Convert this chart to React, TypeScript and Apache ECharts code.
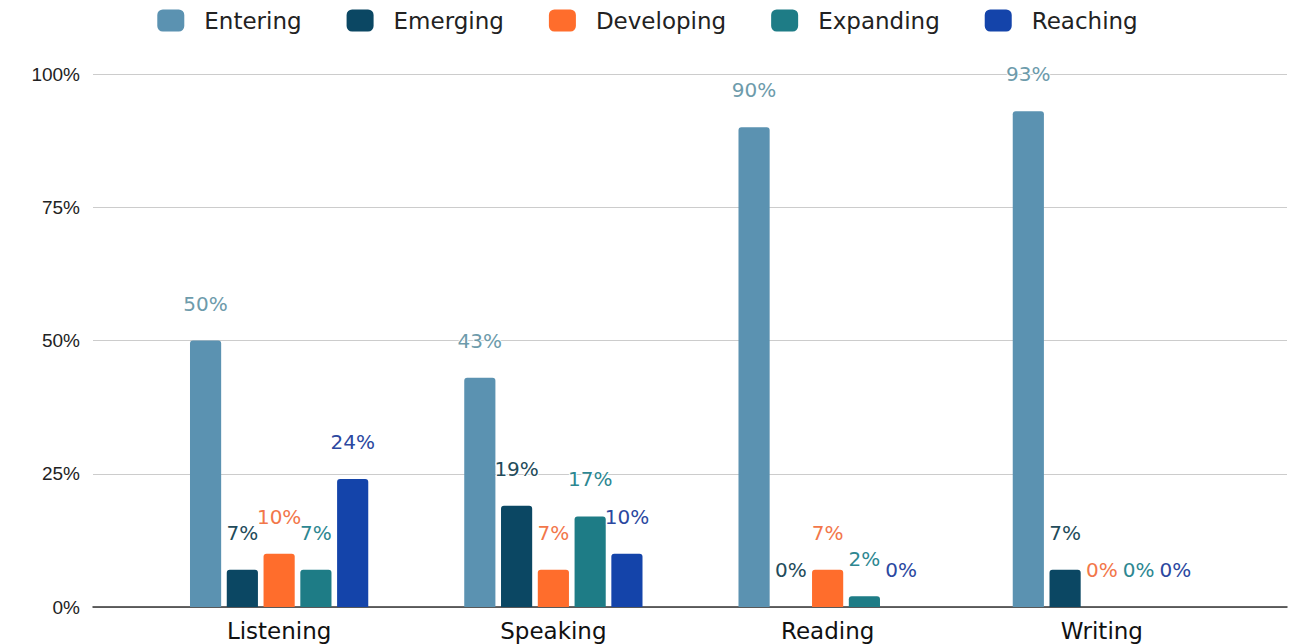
import React, { useEffect, useRef } from "react";
import * as echarts from "echarts";

const categories = ["Listening", "Speaking", "Reading", "Writing"];
const seriesNames = ["Entering", "Emerging", "Developing", "Expanding", "Reaching"];
const entering = [50, 43, 90, 93];
const emerging = [7, 19, 0, 7];
const developing = [10, 7, 7, 0];
const expanding = [7, 17, 2, 0];
const reaching = [24, 10, 0, 0];
const yTicks = [0, 25, 50, 75, 100];

const barColors = ["#5b92b1", "#0b4763", "#ff6d2c", "#1e7c86", "#1444aa"];
const labelColors = ["#6d9bab", "#234b5a", "#f2774a", "#2d8791", "#2b48a0"];

export default function App() {
  const ref = useRef<HTMLDivElement>(null);
  useEffect(() => {
    document.body.style.margin = "0";
    const chart = echarts.init(ref.current!, null, { renderer: "svg" });
    const values = [entering, emerging, developing, expanding, reaching];
    chart.setOption({
      animation: false,
      textStyle: { fontFamily: "Liberation Sans, Arial, sans-serif" },
      legend: {
        top: 4,
        left: "center",
        itemWidth: 27,
        itemHeight: 22,
        itemGap: 45,
        icon: "roundRect",
        textStyle: {
          fontSize: 23,
          fontFamily: "DejaVu Sans, sans-serif",
          color: "#222",
          padding: [0, 0, 0, 15],
        },
        data: seriesNames,
      },
      grid: [
        { left: 93, right: 8, top: 74, bottom: 37 },
        { left: 142, right: 56, top: 74, bottom: 37 },
      ],
      xAxis: [
        {
          type: "category",
          gridIndex: 0,
          data: [""],
          axisLine: { show: true, lineStyle: { color: "#333", width: 1.5 } },
          axisTick: { show: false },
          axisLabel: { show: false },
        },
        {
          type: "category",
          gridIndex: 1,
          data: categories,
          axisLine: { show: false },
          axisTick: { show: false },
          axisLabel: {
            fontSize: 23,
            fontFamily: "DejaVu Sans, sans-serif",
            color: "#111",
            margin: 12,
          },
        },
      ],
      yAxis: [
        {
          type: "value",
          gridIndex: 0,
          min: yTicks[0],
          max: yTicks[yTicks.length - 1],
          interval: 25,
          axisLabel: { fontSize: 19, color: "#222", margin: 13, formatter: "{value}%" },
          splitLine: { lineStyle: { color: "#ccc", width: 1.2 } },
          axisLine: { show: false },
          axisTick: { show: false },
        },
        {
          type: "value",
          gridIndex: 1,
          min: 0,
          max: 100,
          show: false,
          splitLine: { show: false },
        },
      ],
      series: seriesNames.map((name, i) => ({
        name,
        type: "bar",
        xAxisIndex: 1,
        yAxisIndex: 1,
        data: values[i],
        barGap: "18%",
        barCategoryGap: "35%",
        itemStyle: { color: barColors[i], borderRadius: [3, 3, 0, 0] },
        label: {
          show: true,
          position: "top",
          distance: 27,
          formatter: "{c}%",
          fontSize: 20,
          fontFamily: "DejaVu Sans, sans-serif",
          color: labelColors[i],
          textBorderColor: "#fff",
          textBorderWidth: 2,
        },
      })),
    });
    return () => chart.dispose();
  }, []);
  return <div ref={ref} style={{ width: 1295, height: 644 }} />;
}
